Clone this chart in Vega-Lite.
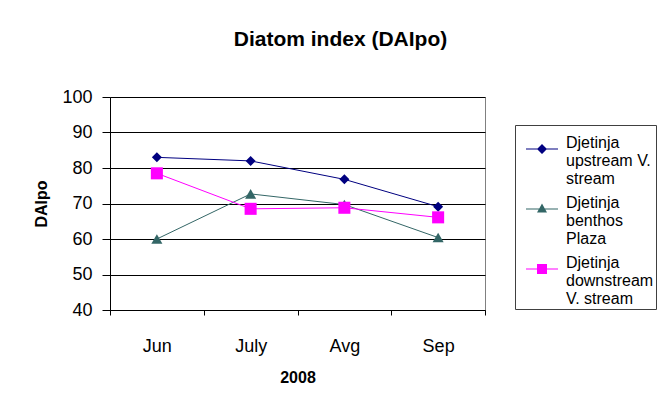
{
  "$schema": "https://vega.github.io/schema/vega-lite/v6.json",
  "width": 375,
  "height": 213,
  "autosize": {"type": "none"},
  "padding": {"left": 110, "top": 97, "right": 175, "bottom": 101},
  "background": "white",
  "title": {
    "text": "Diatom index (DAIpo)",
    "font": "Liberation Sans",
    "fontSize": 21,
    "fontWeight": "bold",
    "color": "black",
    "anchor": "middle",
    "frame": "group",
    "dx": 43,
    "baseline": "alphabetic",
    "offset": 21
  },
  "config": {
    "font": "Liberation Sans",
    "view": {"stroke": "#808080", "strokeWidth": 1},
    "axis": {
      "labelFont": "Liberation Sans",
      "titleFont": "Liberation Sans",
      "labelColor": "black",
      "titleColor": "black",
      "domainColor": "black",
      "tickColor": "black",
      "gridColor": "black",
      "gridOpacity": 1
    },
    "legend": {
      "title": null,
      "orient": "none",
      "legendX": 405,
      "legendY": 28,
      "strokeColor": "#404040",
      "padding": 2,
      "symbolSize": 100,
      "symbolOpacity": 1,
      "symbolStrokeWidth": 0,
      "symbolBaseFillColor": {"expr": "scale('color', datum.value)"},
      "labelFont": "Liberation Sans",
      "labelFontSize": 16,
      "labelColor": "black",
      "labelBaseline": "top",
      "labelOffset": 33,
      "labelLimit": 200,
      "rowPadding": -4
    }
  },
  "data": {
    "values": [
      {"month": "Jun", "series": "Djetinja upstream V. stream", "value": 83},
      {"month": "July", "series": "Djetinja upstream V. stream", "value": 82},
      {"month": "Avg", "series": "Djetinja upstream V. stream", "value": 76.8},
      {"month": "Sep", "series": "Djetinja upstream V. stream", "value": 69.1},
      {"month": "Jun", "series": "Djetinja benthos Plaza", "value": 60},
      {"month": "July", "series": "Djetinja benthos Plaza", "value": 72.7},
      {"month": "Avg", "series": "Djetinja benthos Plaza", "value": 69.7},
      {"month": "Sep", "series": "Djetinja benthos Plaza", "value": 60.4},
      {"month": "Jun", "series": "Djetinja downstream V. stream", "value": 78.5},
      {"month": "July", "series": "Djetinja downstream V. stream", "value": 68.5},
      {"month": "Avg", "series": "Djetinja downstream V. stream", "value": 68.8},
      {"month": "Sep", "series": "Djetinja downstream V. stream", "value": 66.1}
    ]
  },
  "encoding": {
    "x": {
      "field": "month",
      "type": "ordinal",
      "sort": ["Jun", "July", "Avg", "Sep"],
      "scale": {"type": "band", "paddingInner": 0, "paddingOuter": 0},
      "axis": {
        "title": "2008",
        "titleFontSize": 16,
        "titleFontWeight": "bold",
        "titlePadding": 14,
        "labelFontSize": 18,
        "labelAngle": 0,
        "labelPadding": 22,
        "tickSize": 5,
        "tickBand": "extent",
        "grid": false
      }
    },
    "y": {
      "field": "value",
      "type": "quantitative",
      "scale": {"domain": [40, 100], "nice": false, "zero": false},
      "axis": {
        "title": "DAIpo",
        "titleFontSize": 16,
        "titleFontWeight": "bold",
        "titlePadding": 12,
        "labelFontSize": 18,
        "labelPadding": 10,
        "tickSize": 8,
        "values": [40, 50, 60, 70, 80, 90, 100],
        "grid": true
      }
    },
    "color": {
      "field": "series",
      "type": "nominal",
      "scale": {
        "domain": ["Djetinja upstream V. stream", "Djetinja benthos Plaza", "Djetinja downstream V. stream"],
        "range": ["#000080", "#336666", "#FF00FF"]
      },
      "legend": null
    }
  },
  "layer": [
    {
      "mark": {"type": "line", "strokeWidth": 1}
    },
    {
      "mark": {"type": "point", "filled": true, "opacity": 1},
      "encoding": {
        "shape": {
          "field": "series",
          "type": "nominal",
          "scale": {
            "domain": ["Djetinja upstream V. stream", "Djetinja benthos Plaza", "Djetinja downstream V. stream"],
            "range": ["diamond", "triangle-up", "square"]
          },
          "legend": null
        },
        "size": {
          "field": "series",
          "type": "nominal",
          "scale": {
            "domain": ["Djetinja upstream V. stream", "Djetinja benthos Plaza", "Djetinja downstream V. stream"],
            "range": [100, 145, 100]
          },
          "legend": null
        }
      }
    },
    {
      "mark": {"type": "point", "filled": true, "opacity": 0, "size": 1},
      "encoding": {
        "shape": {
          "field": "series",
          "type": "nominal",
          "scale": {
            "domain": ["Djetinja upstream V. stream", "Djetinja benthos Plaza", "Djetinja downstream V. stream"],
            "range": [
              "M0.2,2.7H6.6V2.9H0.2Z M3.4,1.8L4.4,2.8L3.4,3.8L2.4,2.8Z",
              "M0.2,2.7H6.6V2.9H0.2Z M3.4,1.7L4.4,3.5L2.4,3.5Z",
              "M0.2,2.7H6.6V2.9H0.2Z M2.4,1.8H4.4V3.8H2.4Z"
            ]
          },
          "legend": {
            "title": null,
            "orient": "none",
            "legendX": 405,
            "legendY": 28,
            "labelExpr": "datum.label == 'Djetinja upstream V. stream' ? ['Djetinja','upstream V.','stream'] : datum.label == 'Djetinja benthos Plaza' ? ['Djetinja','benthos','Plaza'] : ['Djetinja','downstream','V. stream']"
          }
        }
      }
    }
  ],
  "resolve": {"scale": {"shape": "independent"}}
}
